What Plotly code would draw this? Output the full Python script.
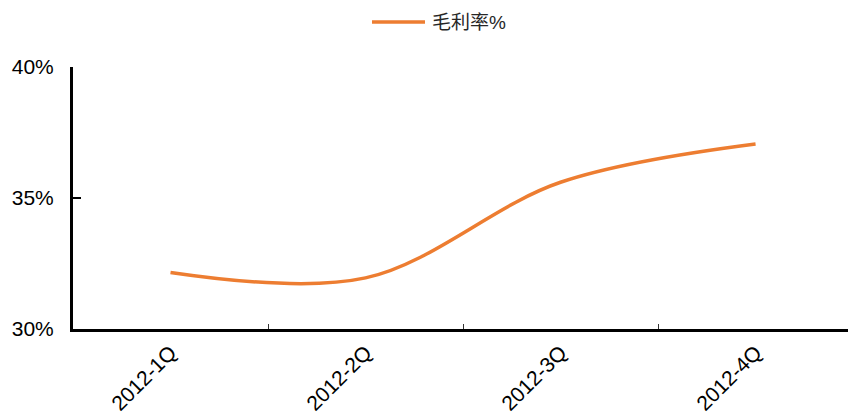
import plotly.graph_objects as go

categories = ["2012-1Q", "2012-2Q", "2012-3Q", "2012-4Q"]
gross_margin = [32.16, 31.95, 35.6, 37.06]
series_name = "毛利率%"
y_ticks = [30, 35, 40]
y_tick_labels = ["30%", "35%", "40%"]

LINE_COLOR = "#ED7D31"

fig = go.Figure()
fig.add_trace(go.Scatter(
    x=categories, y=gross_margin, name=series_name, mode="lines",
    line=dict(color=LINE_COLOR, width=3.5, shape="spline", smoothing=1.0),
    showlegend=False,
))

# plot area: x 73..848 px, y 67..329 px
def px_x(p):
    return (p - 73) / 775.0

def px_y(p):
    return (329 - p) / 262.0

fig.add_shape(type="line", xref="paper", yref="paper",
              x0=px_x(372), x1=px_x(425), y0=px_y(22), y1=px_y(22),
              line=dict(color=LINE_COLOR, width=3.5))
fig.add_annotation(text=series_name, xref="paper", yref="paper",
                   x=px_x(430), y=px_y(22), xanchor="left", yanchor="middle",
                   showarrow=False,
                   font=dict(size=19, color="#262626",
                             family="Liberation Sans, Noto Sans CJK SC"))

fig.update_layout(
    width=848, height=417,
    margin=dict(l=73, r=0, t=67, b=88),
    paper_bgcolor="white", plot_bgcolor="white",
    font=dict(family="Liberation Sans, Arial, Noto Sans CJK SC", color="#000000"),
    showlegend=False,
)

fig.update_xaxes(
    type="category", range=[-0.5, 3.474],
    showline=True, linecolor="black", linewidth=3,
    ticks="inside", ticklen=5, tickwidth=1, tickcolor="#333",
    tickson="boundaries", tickangle=-45,
    tickfont=dict(size=21, color="#000"),
    showgrid=False, zeroline=False,
)
fig.update_yaxes(
    range=[30, 40], tickmode="array", tickvals=y_ticks, ticktext=y_tick_labels,
    showline=True, linecolor="black", linewidth=3,
    ticks="inside", ticklen=8, tickwidth=2, tickcolor="black",
    tickfont=dict(size=21, color="#000"),
    showgrid=False, zeroline=False, ticklabelstandoff=12,
)

fig.write_html("out.html")
